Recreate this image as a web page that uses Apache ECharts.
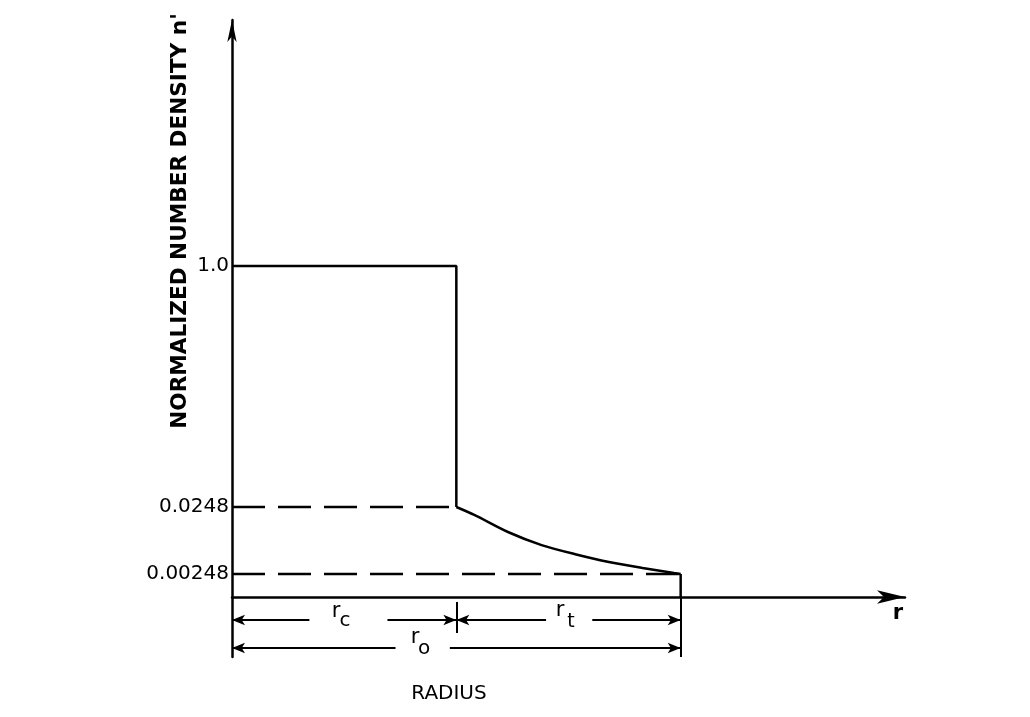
<!DOCTYPE html>
<html>
<head>
<meta charset="utf-8">
<script src="https://cdn.jsdelivr.net/npm/echarts@6/dist/echarts.min.js"></script>
<style>html,body{margin:0;padding:0;background:#fff}#c{width:1030px;height:717px}</style>
</head>
<body>
<div id="c"></div>
<script>
// ---- data (radius in units of r_c, so r_c = 1, r_o = 2) ----
const stepRadius  = [0, 1, 1];
const stepDensity = [1.0, 1.0, 0.0248];
const tailRadius  = [1, 1.08, 1.23, 1.38, 1.53, 1.68, 1.83, 1.97, 2];
const tailDensity = [0.0248, 0.0189, 0.0105, 0.0067, 0.0049, 0.00375, 0.00305, 0.00257, 0.00248];
const edgeRadius  = [2, 2];
const edgeDensity = [0.00248, 0];
const levelCore = 0.0248;      // dashed level, 0 .. r_c
const levelOuter = 0.00248;    // dashed level, 0 .. r_o
const rCore = 1;
const rOuter = 2;
const yTickValues = [0.00248, 0.0248, 1.0];
const yTickLabels = ['0.00248', '0.0248', '1.0'];

// ---- schematic (non-uniform) density scale of the original drawing ----
const SCALE_VALUES = [0, 0.00248, 0.0248, 1.0];
const SCALE_UNITS  = [0, 23, 90, 331];
function yScale(v) {
  if (v <= SCALE_VALUES[1]) return v / SCALE_VALUES[1] * SCALE_UNITS[1];
  for (let i = 1; i < SCALE_VALUES.length - 1; i++) {
    const a = SCALE_VALUES[i], b = SCALE_VALUES[i + 1];
    if (v <= b || i === SCALE_VALUES.length - 2) {
      const f = Math.log(v / a) / Math.log(b / a);
      return SCALE_UNITS[i] + f * (SCALE_UNITS[i + 1] - SCALE_UNITS[i]);
    }
  }
}
const toPts = (xs, ys) => xs.map((r, i) => [r, yScale(ys[i])]);

const stepData = toPts(stepRadius, stepDensity);
const tailData = toPts(tailRadius, tailDensity);
const edgeData = toPts(edgeRadius, edgeDensity);
const dashCore = [[0, yScale(levelCore)], [rCore, yScale(levelCore)]];
const dashOuter = [[0, yScale(levelOuter)], [rOuter, yScale(levelOuter)]];
const tickUnits = yTickValues.map(yScale);

const FONT = 'DejaVu Sans';
const chart = echarts.init(document.getElementById('c'));
const dimY1 = -23, dimY2 = -51;
const arrow = { symbol: 'arrow', symbolSize: [8, 13] };
const none = { symbol: 'none' };
function txt(x, y, s, size, extra) {
  return { type: 'text', x: x, y: y, rotation: (extra && extra.rotation) || 0,
    style: { text: s, fontFamily: FONT, fontSize: size, fontWeight: (extra && extra.bold) ? 'bold' : 'normal',
      fill: '#000', align: 'center', verticalAlign: 'middle' } };
}
const lineCommon = { type: 'line', symbol: 'none', silent: true, clip: false };

chart.setOption({
  animation: false,
  backgroundColor: '#fff',
  grid: { left: 232, right: 125, top: 20, bottom: 60, containLabel: false },
  xAxis: {
    type: 'value', min: 0, max: 3,
    axisLine: { onZero: true, symbol: ['none', 'arrow'], symbolSize: [10, 28], lineStyle: { color: '#000', width: 2.5 } },
    axisTick: { show: false }, axisLabel: { show: false }, splitLine: { show: false }
  },
  yAxis: {
    type: 'value', min: -60, max: 577,
    axisLine: { show: true, symbol: ['none', 'arrow'], symbolSize: [7, 22], lineStyle: { color: '#000', width: 2.5 } },
    axisTick: { show: false },
    splitLine: { show: false },
    axisLabel: {
      customValues: tickUnits,
      margin: 3,
      color: '#000', fontFamily: FONT, fontSize: 20,
      formatter: function (val) {
        for (let i = 0; i < tickUnits.length; i++) if (Math.abs(tickUnits[i] - val) < 1e-6) return yTickLabels[i];
        return '';
      }
    }
  },
  graphic: [
    txt(180, 221, "NORMALIZED NUMBER DENSITY n'", 21.6, { rotation: Math.PI / 2, bold: true }),
    txt(449, 694, 'RADIUS', 20),
    txt(898, 614, 'r', 21, { bold: true }),
    txt(336, 612, 'r', 21),
    txt(345, 621, 'c', 20),
    txt(560, 611, 'r', 21),
    txt(571, 622, 't', 19),
    txt(415, 638, 'r', 21),
    txt(424, 649, 'o', 20)
  ],
  series: [
    Object.assign({}, lineCommon, { data: dashCore, z: 2, lineStyle: { color: '#000', width: 2.5, type: [33, 13] } }),
    Object.assign({}, lineCommon, { data: dashOuter, z: 2, lineStyle: { color: '#000', width: 2.5, type: [33, 13] } }),
    Object.assign({}, lineCommon, { data: stepData, z: 3, lineStyle: { color: '#000', width: 2.5 } }),
    Object.assign({}, lineCommon, { data: tailData, z: 3, smooth: 0.3, lineStyle: { color: '#000', width: 2.5 } }),
    Object.assign({}, lineCommon, { data: edgeData, z: 3, lineStyle: { color: '#000', width: 2.5 },
      markLine: {
        silent: true, animation: false,
        label: { show: false },
        lineStyle: { color: '#000', width: 2, type: 'solid' },
        emphasis: { disabled: true },
        data: [
          [Object.assign({ coord: [0, dimY1] }, arrow), Object.assign({ coord: [0.345, dimY1] }, none)],
          [Object.assign({ coord: [0.693, dimY1] }, none), Object.assign({ coord: [rCore, dimY1] }, arrow)],
          [Object.assign({ coord: [rCore, dimY1] }, arrow), Object.assign({ coord: [1.40, dimY1] }, none)],
          [Object.assign({ coord: [1.606, dimY1] }, none), Object.assign({ coord: [rOuter, dimY1] }, arrow)],
          [Object.assign({ coord: [0, dimY2] }, arrow), Object.assign({ coord: [0.729, dimY2] }, none)],
          [Object.assign({ coord: [0.971, dimY2] }, none), Object.assign({ coord: [rOuter, dimY2] }, arrow)],
          [Object.assign({ coord: [rCore, -5] }, none), Object.assign({ coord: [rCore, -36] }, none)],
          [Object.assign({ coord: [rOuter, 0] }, none), Object.assign({ coord: [rOuter, -60] }, none)]
        ]
      }
    })
  ]
});
</script>
</body>
</html>
